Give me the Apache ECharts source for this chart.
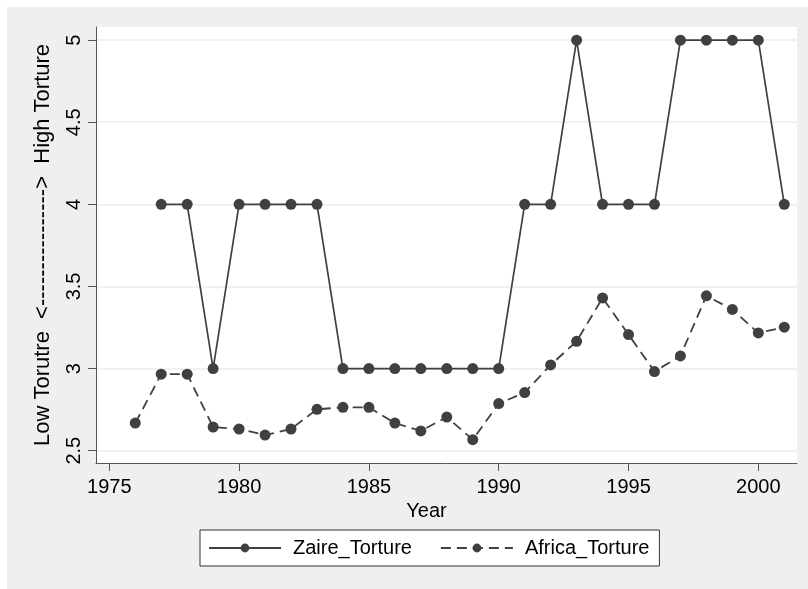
<!DOCTYPE html>
<html>
<head>
<meta charset="utf-8">
<script src="https://cdn.jsdelivr.net/npm/echarts@6/dist/echarts.min.js"></script>
<style>
  body { margin: 0; background: #fff; overflow: hidden; }
  #chart { position: absolute; left: 7px; top: 7px; width: 801px; height: 582px; }
</style>
</head>
<body>
<div id="chart"></div>
<script>
// data
const zaireYears = [1977,1978,1979,1980,1981,1982,1983,1984,1985,1986,1987,1988,1989,1990,
  1991,1992,1993,1994,1995,1996,1997,1998,1999,2000,2001]
const zaireTorture = [4,4,3,4,4,4,4,3,3,3,3,3,3,3,4,4,5,4,4,4,5,5,5,5,4]

const africaYears = [1976,1977,1978,1979,1980,1981,1982,1983,1984,1985,1986,1987,1988,1989,1990,
  1991,1992,1993,1994,1995,1996,1997,1998,1999,2000,2001]
const africaTorture = [2.668,2.966,2.966,2.644,2.632,2.595,2.632,2.752,2.764,2.764,2.668,2.62,2.705,2.567,2.787,
  2.854,3.022,3.166,3.43,3.207,2.982,3.077,3.443,3.36,3.217,3.252]

const xTicks = [1975,1980,1985,1990,1995,2000]
const yTicks = [2.5,3,3.5,4,4.5,5]

const font = 'Liberation Sans, Arial, sans-serif'
const ink = '#404040'

let chart = echarts.init(document.getElementById('chart'), null, {renderer: 'canvas'})

const pairs = (xs, ys) => xs.map((x, i) => [x, ys[i]])

var option = {
  backgroundColor: '#efefef',
  animation: false,
  textStyle: {fontFamily: font},
  grid: {
    left: 89, top: 20, right: 11, bottom: 126,
    show: true, backgroundColor: '#fff', borderWidth: 0
  },
  legend: {
    left: 193, top: 523,
    padding: [8, 10, 8, 8],
    backgroundColor: '#fff',
    borderColor: '#333',
    borderWidth: 1,
    borderRadius: 0,
    itemWidth: 72,
    itemHeight: 11,
    itemGap: 28,
    textStyle: {fontSize: 20, color: '#000', fontFamily: font, padding: [0, 0, 0, 7]},
    data: ['Zaire_Torture', 'Africa_Torture']
  },
  xAxis: {
    type: 'value',
    min: 1974.488, max: 2001.49,
    name: 'Year',
    nameLocation: 'middle',
    nameGap: 33,
    nameTextStyle: {fontSize: 20, color: '#000', padding: [0, 40, 0, 0]},
    axisLine: {onZero: false, lineStyle: {color: '#555', width: 1}},
    axisTick: {customValues: xTicks, length: 8, lineStyle: {color: '#555'}},
    axisLabel: {customValues: xTicks, fontSize: 20, color: '#000', margin: 14, formatter: v => String(v)},
    splitLine: {show: false}
  },
  yAxis: {
    type: 'value',
    min: 2.425, max: 5.08,
    name: 'Low Torutre  <---------------->  High Torture',
    nameLocation: 'middle',
    nameRotate: 90,
    nameGap: 42,
    nameTextStyle: {fontSize: 22, color: '#000'},
    axisLine: {show: true, onZero: false, lineStyle: {color: '#555', width: 1}},
    axisTick: {show: true, customValues: yTicks, length: 8, lineStyle: {color: '#555'}},
    axisLabel: {customValues: yTicks, fontSize: 20, color: '#000', rotate: 90, margin: 12, formatter: v => String(v)},
    splitLine: {show: true, lineStyle: {color: '#ececec', width: 1.5}}
  },
  series: [
    {
      name: 'Zaire_Torture',
      type: 'line',
      data: pairs(zaireYears, zaireTorture),
      symbol: 'circle',
      symbolSize: 11,
      itemStyle: {color: ink},
      lineStyle: {color: ink, width: 1.7}
    },
    {
      name: 'Africa_Torture',
      type: 'line',
      data: pairs(africaYears, africaTorture),
      symbol: 'circle',
      symbolSize: 11,
      itemStyle: {color: ink},
      lineStyle: {color: ink, width: 1.8, type: [10, 6]}
    }
  ]
}
chart.setOption(option)
</script>
</body>
</html>
